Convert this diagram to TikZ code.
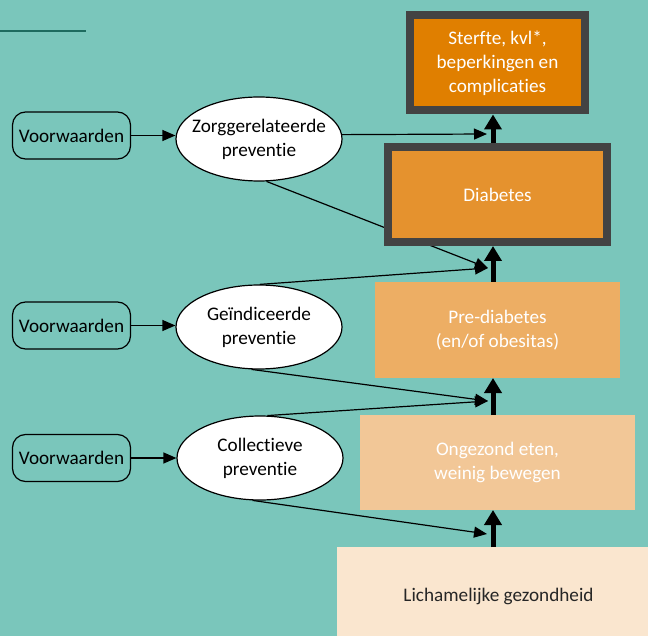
\documentclass[tikz,border=0pt]{standalone}
\usepackage{fontspec}
\setmainfont{Carlito}[Ligatures=NoCommon]
\usetikzlibrary{shapes.geometric,arrows.meta}
\definecolor{bg}{HTML}{7AC6BB}
\definecolor{topline}{HTML}{1E6B5F}
\definecolor{frame}{HTML}{434343}
\definecolor{cSterfte}{HTML}{E07F00}
\definecolor{cDiab}{HTML}{E5922E}
\definecolor{cPre}{HTML}{EDAE64}
\definecolor{cOng}{HTML}{F2C797}
\definecolor{cLich}{HTML}{FAE6CF}
\begin{document}
\begin{tikzpicture}[x=1pt,y=-1pt,
  txt/.style={font=\fontsize{19.2}{24}\selectfont, align=center, inner sep=0pt},
  framed/.style={txt, rectangle, draw=frame, line width=8pt, text=white},
  plainbox/.style={txt, rectangle, outer sep=0pt},
  cond/.style={txt, rectangle, draw=black, line width=1.2pt, rounded corners=13pt, minimum width=118pt, minimum height=47pt},
  prev/.style={txt, ellipse, draw=black, fill=white, line width=1.2pt, inner xsep=-14pt, inner ysep=0pt, minimum width=166pt, minimum height=84pt},
  thin/.style={line width=1.2pt, -{Triangle[length=13pt,width=11pt]}},
  bigarrow/.style={line width=5pt, -{Triangle[length=15pt,width=17pt]}}
]
\fill[bg] (0,0) rectangle (648,636);
\useasboundingbox (0,0) rectangle (648,636);
\draw[topline, line width=1.5pt] (0,31) -- (86,31);

% left column
\node[cond] (v1) at (71.5,135.5) {Voorwaarden};
\node[cond] (v2) at (71.5,325.5) {Voorwaarden};
\node[cond] (v3) at (71.5,458) {Voorwaarden};
\node[prev] (zorg) at (259,139) {Zorggerelateerde\\preventie};
\node[prev] (gein) at (259,327) {Geïndiceerde\\preventie};
\node[prev] (coll) at (260,458) {Collectieve\\preventie};

\draw[thin] (v1.east) -- (v1.east -| zorg.west);
\draw[thin] (v2.east) -- (v2.east -| gein.west);
\draw[thin] (v3.east) -- (v3.east -| coll.west);

% tips
\coordinate (t1) at (487,134);
\coordinate (t2) at (488,268);
\coordinate (t3) at (488,401);
\coordinate (t4) at (487,534);

\draw[thin] (zorg.3) -- (t1);
\draw[thin] (zorg.-80) -- (t2);
\draw[thin] (gein.89) -- (t2);
\draw[thin] (gein.-100) -- (t3);
\draw[thin] (coll.80) -- (t3);
\draw[thin] (coll.-100) -- (t4);

% right column
\node[framed, fill=cSterfte, minimum width=175pt, minimum height=95pt] (sterfte) at (497.5,63) {Sterfte, kvl*,\\beperkingen en\\complicaties};
\node[framed, fill=cDiab, minimum width=219pt, minimum height=95pt] (diab) at (497.5,194.5) {Diabetes};
\node[plainbox, fill=cPre, text=white, minimum width=245pt, minimum height=96pt] (pre) at (497.5,330) {Pre-diabetes\\(en/of obesitas)};
\node[plainbox, fill=cOng, text=white, minimum width=275pt, minimum height=95pt] (ong) at (497.5,462.5) {Ongezond eten,\\weinig bewegen};
\node[plainbox, fill=cLich, text=black!85, minimum width=323pt, minimum height=98pt] (lich) at (498.5,596) {Lichamelijke gezondheid};

\coordinate (ax) at (493,0);
\draw[bigarrow] (ax |- diab.north) -- (ax |- sterfte.south);
\draw[bigarrow] (ax |- pre.north) -- (ax |- diab.south);
\draw[bigarrow] (ax |- ong.north) -- (ax |- pre.south);
\draw[bigarrow] (ax |- lich.north) -- (ax |- ong.south);
\end{tikzpicture}
\end{document}
